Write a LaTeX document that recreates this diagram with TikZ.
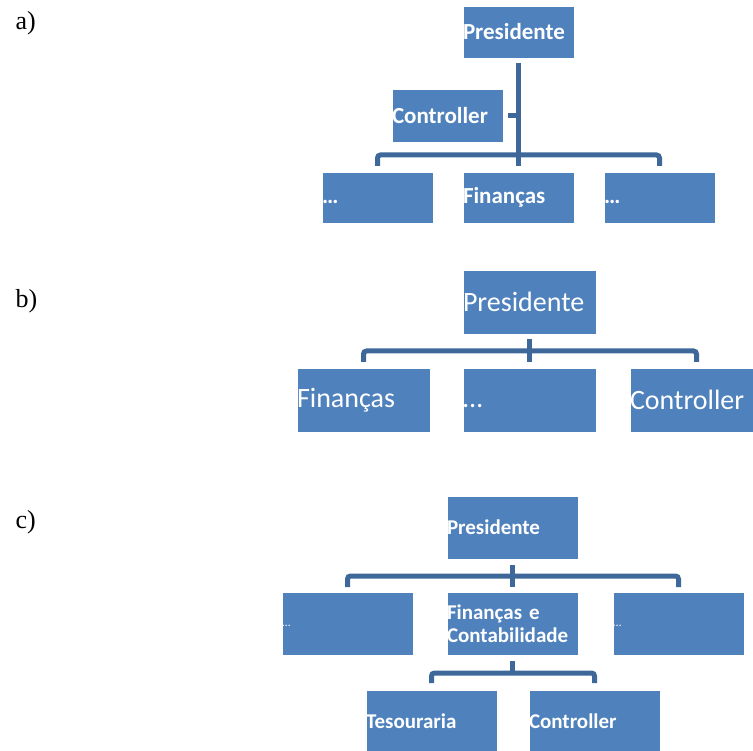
\documentclass[tikz,border=0pt]{standalone}
\usepackage{fontspec}
\setmainfont{Liberation Serif}
\newfontfamily\boxfont{Carlito}
\usetikzlibrary{positioning}
\definecolor{boxblue}{HTML}{4F81BD}
\definecolor{linkblue}{HTML}{3D6899}

\begin{document}
\begin{tikzpicture}[x=1pt, y=-1pt,
    unit/.style={rectangle, draw=white, line width=0.6pt, fill=boxblue, text=white,
                 anchor=north west, inner sep=0pt, outer sep=0pt, align=left},
    unita/.style={unit, minimum width=111pt, text width=111pt, minimum height=52pt,
                  font=\boxfont\bfseries\fontsize{23}{27}\selectfont},
    unitb/.style={unit, minimum width=133pt, text width=133pt, minimum height=64pt,
                  font=\boxfont\fontsize{28}{32}\selectfont},
    unitc/.style={unit, minimum width=131pt, text width=131pt, minimum height=63pt,
                  font=\boxfont\bfseries\fontsize{21}{23}\selectfont},
    link/.style={draw=linkblue, line width=5pt, rounded corners=3pt},
    tag/.style={anchor=base west, font=\fontsize{26}{30}\selectfont}
]
\useasboundingbox (0,0) rectangle (753,751);

% --- labels ---
\node[tag] (taga) at (12,30)  {a)};
\node[tag] (tagb) at (12,308) {b)};
\node[tag] (tagc) at (12,528) {c)};

% --- a) ---
\node[unita] (pa) at (463,6)   {Presidente};
\node[unita, minimum height=53pt] (ca) at (392,89) {Controller};
\node[unita, minimum height=51pt] (da) at (322,172) {\dots\vphantom{Finanças}};
\node[unita, minimum height=51pt] (fa) at (463,172) {Finanças};
\node[unita, minimum height=51pt] (ea) at (604,172) {\dots\vphantom{Finanças}};

\draw[link, shorten <=5pt, shorten >=6pt] (pa.south) -- (fa.north);
\draw[link, shorten <=5pt] (ca.east) -- (ca.east -| pa.south);
\draw[link] ([yshift=6pt]da.north) -- ([yshift=17pt]da.north)
    -- ([yshift=17pt]ea.north) -- ([yshift=6pt]ea.north);

% --- b) ---
\node[unitb] (pb) at (463,270) {Presidente};
\node[unitb] (lb) at (297,368) {Finanças};
\node[unitb] (mb) at (463,368) {\dots\vphantom{Finanças}};
\node[unitb] (rb) at (630,368) {Controller};

\draw[link, shorten <=5pt, shorten >=6pt] (pb.south) -- (mb.north);
\draw[link] ([yshift=6pt]lb.north) -- ([yshift=17pt]lb.north)
    -- ([yshift=17pt]rb.north) -- ([yshift=6pt]rb.north);

% --- c) ---
\node[unitc] (pc) at (447,496) {Presidente};
\node[unitc, font=\boxfont\fontsize{12}{14}\selectfont] (lc) at (282,592) {\raisebox{-7pt}{\dots}};
\node[unitc] (mc) at (447,592) {Finanças e\\Contabilidade};
\node[unitc, font=\boxfont\fontsize{12}{14}\selectfont] (rc) at (613,592) {\raisebox{-7pt}{\dots}};
\node[unitc] (tc) at (366,690) {Tesouraria};
\node[unitc] (kc) at (529,690) {Controller};

\draw[link, shorten <=6pt, shorten >=5pt] (pc.south) -- (mc.north);
\draw[link] ([yshift=5pt]lc.north) -- ([yshift=16pt]lc.north)
    -- ([yshift=16pt]rc.north) -- ([yshift=5pt]rc.north);

\coordinate (subbar) at ([yshift=17pt]tc.north);
\draw[link, shorten <=6pt] (mc.south) -- (subbar -| mc.south);
\draw[link] ([yshift=7pt]tc.north) -- (subbar) -- (subbar -| kc.north)
    -- ([yshift=7pt]kc.north);

\end{tikzpicture}
\end{document}
